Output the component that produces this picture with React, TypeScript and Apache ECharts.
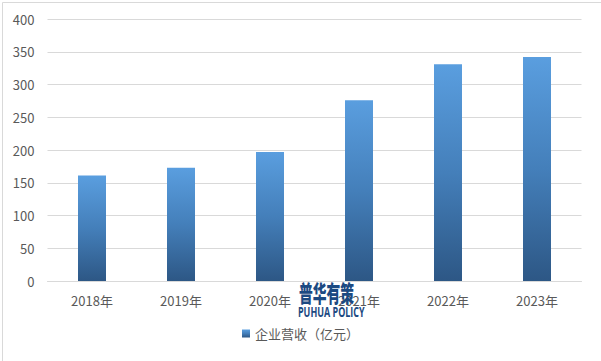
import React, { useEffect, useRef } from "react";
import * as echarts from "echarts";

const categories = ["2018年", "2019年", "2020年", "2021年", "2022年", "2023年"];
const revenue = [161, 173, 197, 276, 331, 342];
const seriesName = "企业营收（亿元）";

export default function App() {
  const ref = useRef<HTMLDivElement>(null);
  useEffect(() => {
    document.body.style.margin = "0";
    const chart = echarts.init(ref.current!, null, { renderer: "svg" });
    const font = "'Microsoft YaHei', 'Noto Sans CJK SC', 'Liberation Sans', sans-serif";
    chart.setOption({
      animation: false,
      backgroundColor: "#ffffff",
      grid: { left: 47.5, right: 19.5, top: 19, bottom: 80, containLabel: false },
      xAxis: {
        type: "category",
        data: categories,
        axisLine: { lineStyle: { color: "#D9D9D9", width: 1 } },
        axisTick: { show: false },
        axisLabel: { color: "#595959", fontSize: 13, fontFamily: font, margin: 13 },
      },
      yAxis: {
        type: "value",
        min: 0,
        max: 400,
        interval: 50,
        axisLine: { show: false },
        axisTick: { show: false },
        splitLine: { lineStyle: { color: "#D9D9D9", width: 1 } },
        axisLabel: { color: "#595959", fontSize: 13, fontFamily: font, margin: 13 },
      },
      legend: {
        data: [seriesName],
        bottom: 16,
        left: "center",
        itemWidth: 8,
        itemHeight: 8,
        itemGap: 4,
        icon: "rect",
        textStyle: { color: "#595959", fontSize: 13, fontFamily: font },
      },
      series: [
        {
          name: seriesName,
          type: "bar",
          data: revenue,
          barWidth: 28,
          itemStyle: {
            color: new echarts.graphic.LinearGradient(0, 0, 0, 1, [
              { offset: 0, color: "#5A9EDF" },
              { offset: 0.5, color: "#447FBA" },
              { offset: 1, color: "#2D5785" },
            ]),
          },
        },
      ],
      graphic: [
        {
          type: "rect",
          left: 0,
          top: 0,
          shape: { width: 600, height: 360 },
          style: { fill: "none", stroke: "#D9D9D9", lineWidth: 1 },
          silent: true,
        },
        {
          type: "text",
          x: 299,
          y: 280,
          scaleX: 0.6,
          z: 100,
          style: {
            text: "普华有策",
            fontSize: 23,
            fontWeight: 900,
            fill: "#1C4A82",
            verticalAlign: "top",
            align: "left",
            fontFamily: "'Noto Sans CJK SC', sans-serif",
          },
        },
        {
          type: "text",
          x: 298,
          y: 304,
          scaleX: 0.64,
          z: 100,
          style: {
            text: "PUHUA POLICY",
            fontSize: 14,
            fontWeight: "bold",
            fill: "#1C4A82",
            verticalAlign: "top",
            align: "left",
            fontFamily: "'Open Sans', 'Liberation Sans', sans-serif",
          },
        },
      ],
    });
    return () => chart.dispose();
  }, []);
  return (
    <div
      ref={ref}
      style={{ position: "absolute", left: 0, top: 0, width: 601, height: 361 }}
    />
  );
}
